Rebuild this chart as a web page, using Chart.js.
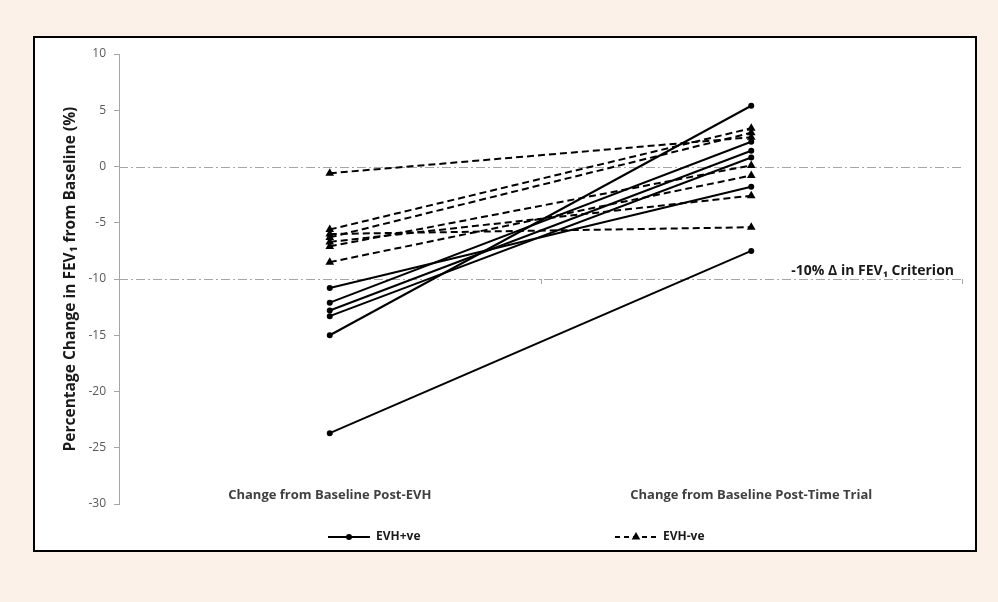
<!DOCTYPE html>
<html>
<head>
<meta charset="utf-8">
<script src="https://cdn.jsdelivr.net/npm/chart.js@4"></script>
<style>
  body { margin: 0; background: #fcf1e8; width: 998px; height: 602px; overflow: hidden; }
  #box { position: absolute; left: 33px; top: 36px; width: 940px; height: 512px; border: 2px solid #000; background: #fff; }
  #wrap { position: relative; width: 940px; height: 512px; }
</style>
</head>
<body>
<div id="box"><div id="wrap"><canvas id="fev-chart"></canvas></div></div>
<script>
// categories on the x axis
const categories = ['Change from Baseline Post-EVH', 'Change from Baseline Post-Time Trial'];

// EVH+ve subjects (solid lines): value post-EVH and post-time trial
const positivePostEVH = [-10.8, -12.1, -12.8, -13.3, -15.0, -23.7];
const positivePostTT  = [-1.8, 2.2, 1.4, 0.8, 5.4, -7.5];

// EVH-ve subjects (dashed lines)
const negativePostEVH = [-0.6, -5.6, -6.0, -6.3, -6.7, -7.1, -8.5];
const negativePostTT  = [2.6, 3.4, -5.4, 3.0, -2.6, 0.1, -0.8];

// y axis
const yMin = -30;
const yMax = 10;
const yStep = 5;

// dash-dot reference lines
const referenceLevels = [0, -10];
const criterionLevel = -10;
const criterionLabel = '-10% \u0394 in FEV\u2081 Criterion';

const seriesNames = ['EVH+ve', 'EVH-ve'];

const datasets = [];
positivePostEVH.forEach((v, i) => {
    datasets.push({
        label: seriesNames[0],
        data: [v, positivePostTT[i]],
        borderColor: '#000',
        backgroundColor: '#000',
        borderWidth: 2,
        pointRadius: 2,
        pointStyle: 'circle',
        tension: 0
    });
});
negativePostEVH.forEach((v, i) => {
    datasets.push({
        label: seriesNames[1],
        data: [v, negativePostTT[i]],
        borderColor: '#000',
        backgroundColor: '#000',
        borderWidth: 2,
        borderDash: [7, 4],
        pointRadius: 3,
        pointStyle: 'triangle',
        tension: 0
    });
});

const extras = {
    id: 'extras',
    beforeDatasetsDraw(chart) {
        const ctx = chart.ctx;
        const area = chart.chartArea;
        const xS = chart.scales.x;
        const yS = chart.scales.y;
        ctx.save();
        ctx.strokeStyle = '#a6a6a6';
        ctx.lineWidth = 1;
        ctx.setLineDash([9, 3, 2, 3]);
        referenceLevels.forEach(v => {
            const y = Math.round(yS.getPixelForValue(v)) + 0.5;
            ctx.beginPath();
            ctx.moveTo(area.left, y);
            ctx.lineTo(area.right, y);
            ctx.stroke();
        });
        // category axis tick marks sit on the criterion line
        ctx.setLineDash([]);
        const yc = Math.round(yS.getPixelForValue(criterionLevel));
        const mid = (xS.getPixelForValue(0) + xS.getPixelForValue(1)) / 2;
        [mid, area.right].forEach(x => {
            ctx.beginPath();
            ctx.moveTo(Math.round(x) + 0.5, yc);
            ctx.lineTo(Math.round(x) + 0.5, yc + 5);
            ctx.stroke();
        });
        ctx.restore();
    },
    afterDraw(chart) {
        const ctx = chart.ctx;
        const area = chart.chartArea;
        const xS = chart.scales.x;
        const yS = chart.scales.y;
        ctx.save();
        // category labels
        ctx.font = 'bold 13px "Open Sans"';
        ctx.fillStyle = '#404040';
        ctx.textAlign = 'center';
        ctx.textBaseline = 'middle';
        categories.forEach((c, i) => {
            ctx.fillText(c, xS.getPixelForValue(i), yS.getPixelForValue(yMin) - 9);
        });
        // criterion label
        ctx.font = 'bold 14px "Open Sans"';
        ctx.fillStyle = '#1a1a1a';
        ctx.textAlign = 'right';
        ctx.textBaseline = 'bottom';
        ctx.fillText(criterionLabel, area.right - 8, yS.getPixelForValue(criterionLevel) - 1);
        // legend
        ctx.font = 'bold 12px "Open Sans"';
        const ly = area.bottom + 33;
        const items = [
            { x: area.left + 209, dash: [], style: 'circle', r: 2, text: seriesNames[0] },
            { x: area.left + 496, dash: [5, 4], style: 'triangle', r: 3, text: seriesNames[1] }
        ];
        items.forEach(it => {
            ctx.strokeStyle = '#000';
            ctx.fillStyle = '#000';
            ctx.lineWidth = 2;
            ctx.setLineDash(it.dash);
            ctx.beginPath();
            ctx.moveTo(it.x, ly);
            ctx.lineTo(it.x + 42, ly);
            ctx.stroke();
            ctx.setLineDash([]);
            Chart.helpers.drawPoint(ctx, { pointStyle: it.style, radius: it.r, borderWidth: 1 }, it.x + 21, ly);
            ctx.fill();
            ctx.fillStyle = '#1a1a1a';
            ctx.textAlign = 'left';
            ctx.textBaseline = 'middle';
            ctx.fillText(it.text, it.x + 48, ly);
        });
        ctx.restore();
    }
};

new Chart(document.getElementById('fev-chart'), {
    type: 'line',
    data: { labels: categories, datasets: datasets },
    plugins: [extras],
    options: {
        responsive: true,
        maintainAspectRatio: false,
        animation: false,
        layout: { padding: { left: 0, top: 16, right: 13, bottom: 46 } },
        plugins: {
            legend: { display: false },
            tooltip: { enabled: false }
        },
        scales: {
            x: {
                type: 'category',
                offset: true,
                display: false
            },
            y: {
                min: yMin,
                max: yMax,
                afterFit(scale) { scale.width = 84; },
                ticks: {
                    stepSize: yStep,
                    padding: 8,
                    color: '#595959',
                    font: { family: 'Open Sans', size: 12 }
                },
                grid: { drawOnChartArea: false, tickLength: 5, color: '#a6a6a6' },
                border: { color: '#a6a6a6' },
                title: {
                    display: true,
                    text: 'Percentage Change in FEV\u2081 from Baseline (%)',
                    color: '#1a1a1a',
                    font: { family: 'Open Sans', size: 15.5, weight: 'bold' },
                    padding: { top: 26 }
                }
            }
        }
    }
});
</script>
</body>
</html>
